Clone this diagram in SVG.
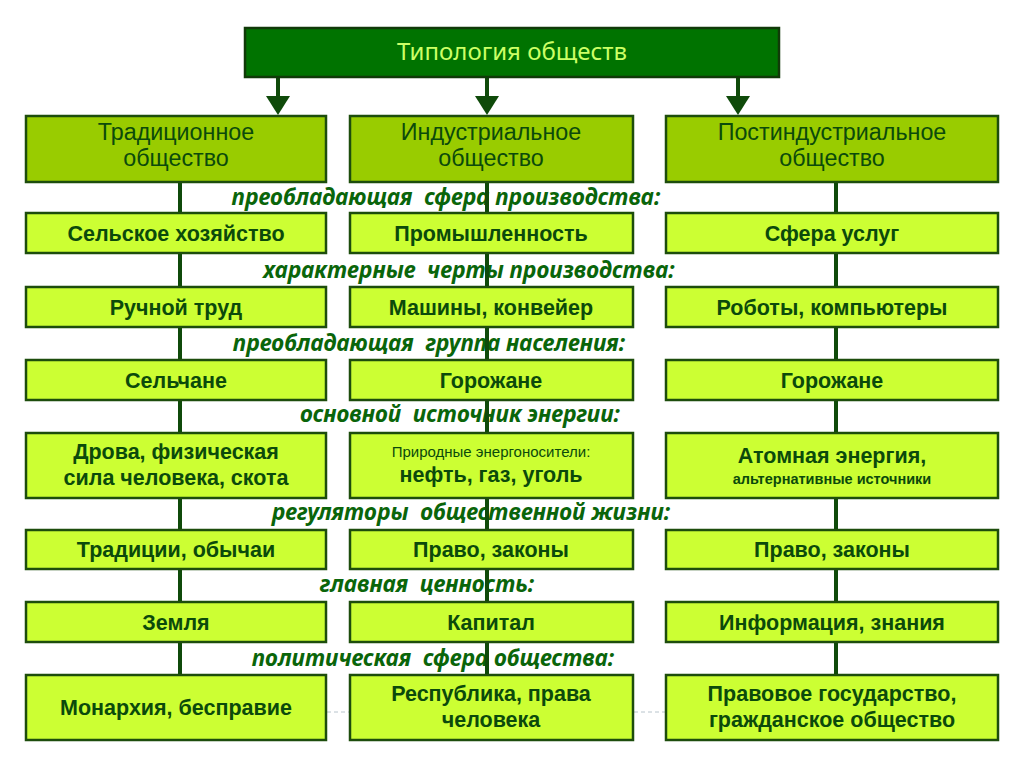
<svg xmlns="http://www.w3.org/2000/svg" width="1024" height="767" viewBox="0 0 1024 767">
<defs>
<style>
.top{fill:#007300;stroke:#103a08;stroke-width:2.5}
.hdr{fill:#99cc00;stroke:#1d4d0c;stroke-width:2.5}
.box{fill:#ccff33;stroke:#1d4d0c;stroke-width:2.5}
.t{font-family:"Liberation Sans",Arial,sans-serif;fill:#0b4a0b;text-anchor:middle}
.b{font-weight:bold;font-size:21.5px}
.h{font-size:23.3px}
.s{font-size:15px}
.lbl{font-family:"Noto Sans","Open Sans",sans-serif;font-style:italic;font-weight:bold;font-size:22.5px;fill:#0a650a;text-anchor:middle;white-space:pre}
.ln{stroke:#0f4a0a;stroke-width:4;fill:none}
.dash{stroke:#b8c4cc;stroke-width:1;stroke-dasharray:4 3;fill:none}
</style>
</defs>
<rect width="1024" height="767" fill="#ffffff"/>

<g id="labels">
<text class="lbl" x="446" y="205" xml:space="preserve">преобладающая  сфера производства:</text>
<text class="lbl" x="469" y="278" xml:space="preserve">характерные  черты производства:</text>
<text class="lbl" x="429" y="351" xml:space="preserve">преобладающая  группа населения:</text>
<text class="lbl" x="460" y="422" xml:space="preserve">основной  источник энергии:</text>
<text class="lbl" x="471" y="520" xml:space="preserve">регуляторы  общественной жизни:</text>
<text class="lbl" x="427" y="592" xml:space="preserve">главная  ценность:</text>
<text class="lbl" x="433" y="666" xml:space="preserve">политическая  сфера общества:</text>
</g>

<g id="connectors">
<line class="ln" x1="278" y1="78" x2="278" y2="98"/>
<polygon points="266,96 290,96 278,115" fill="#0f4a0a"/>
<line class="ln" x1="487" y1="78" x2="487" y2="98"/>
<polygon points="475,96 499,96 487,115" fill="#0f4a0a"/>
<line class="ln" x1="738" y1="78" x2="738" y2="98"/>
<polygon points="726,96 750,96 738,115" fill="#0f4a0a"/>
<line class="ln" x1="180" y1="182" x2="180" y2="675"/>
<line class="ln" x1="487" y1="182" x2="487" y2="675"/>
<line class="ln" x1="836" y1="182" x2="836" y2="675"/>
<line class="dash" x1="327" y1="712" x2="350" y2="712"/>
<line class="dash" x1="634" y1="712" x2="666" y2="712"/>
</g>

<g id="root">
<rect class="top" x="245" y="28" width="534" height="49"/>
<text x="512" y="60" style="font-family:'Noto Sans','Open Sans',sans-serif;text-anchor:middle;fill:#ccff66;font-size:24px">Типология обществ</text>
</g>

<g id="traditional">
<rect class="hdr" x="26" y="116" width="300" height="66"/>
<text class="t h" x="176" y="140">Традиционное</text>
<text class="t h" x="176" y="166">общество</text>
</g>
<g id="industrial">
<rect class="hdr" x="350" y="116" width="283" height="66"/>
<text class="t h" x="491" y="140">Индустриальное</text>
<text class="t h" x="491" y="166">общество</text>
</g>
<g id="postindustrial">
<rect class="hdr" x="666" y="116" width="332" height="66"/>
<text class="t h" x="832" y="140">Постиндустриальное</text>
<text class="t h" x="832" y="166">общество</text>
</g>

<g id="r1c1"><rect class="box" x="26" y="213" width="300" height="40"/><text class="t b" x="176" y="241">Сельское хозяйство</text></g>
<g id="r1c2"><rect class="box" x="350" y="213" width="283" height="40"/><text class="t b" x="491" y="241">Промышленность</text></g>
<g id="r1c3"><rect class="box" x="666" y="213" width="332" height="40"/><text class="t b" x="832" y="241">Сфера услуг</text></g>

<g id="r2c1"><rect class="box" x="26" y="287" width="300" height="40"/><text class="t b" x="176" y="315">Ручной труд</text></g>
<g id="r2c2"><rect class="box" x="350" y="287" width="283" height="40"/><text class="t b" x="491" y="315">Машины, конвейер</text></g>
<g id="r2c3"><rect class="box" x="666" y="287" width="332" height="40"/><text class="t b" x="832" y="315">Роботы, компьютеры</text></g>

<g id="r3c1"><rect class="box" x="26" y="360" width="300" height="40"/><text class="t b" x="176" y="388">Сельчане</text></g>
<g id="r3c2"><rect class="box" x="350" y="360" width="283" height="40"/><text class="t b" x="491" y="388">Горожане</text></g>
<g id="r3c3"><rect class="box" x="666" y="360" width="332" height="40"/><text class="t b" x="832" y="388">Горожане</text></g>

<g id="r4c1"><rect class="box" x="26" y="433" width="300" height="65"/><text class="t b" x="176" y="459">Дрова, физическая</text><text class="t b" x="176" y="485">сила человека, скота</text></g>
<g id="r4c2"><rect class="box" x="350" y="433" width="283" height="65"/><text class="t s" x="491" y="457">Природные энергоносители:</text><text class="t b" x="491" y="482">нефть, газ, уголь</text></g>
<g id="r4c3"><rect class="box" x="666" y="433" width="332" height="65"/><text class="t b" x="832" y="463">Атомная энергия,</text><text class="t s" x="832" y="484" style="font-weight:bold;font-size:14.5px">альтернативные источники</text></g>

<g id="r5c1"><rect class="box" x="26" y="530" width="300" height="39"/><text class="t b" x="176" y="557">Традиции, обычаи</text></g>
<g id="r5c2"><rect class="box" x="350" y="530" width="283" height="39"/><text class="t b" x="491" y="557">Право, законы</text></g>
<g id="r5c3"><rect class="box" x="666" y="530" width="332" height="39"/><text class="t b" x="832" y="557">Право, законы</text></g>

<g id="r6c1"><rect class="box" x="26" y="602" width="300" height="40"/><text class="t b" x="176" y="630">Земля</text></g>
<g id="r6c2"><rect class="box" x="350" y="602" width="283" height="40"/><text class="t b" x="491" y="630">Капитал</text></g>
<g id="r6c3"><rect class="box" x="666" y="602" width="332" height="40"/><text class="t b" x="832" y="630">Информация, знания</text></g>

<g id="r7c1"><rect class="box" x="26" y="675" width="300" height="65"/><text class="t b" x="176" y="715">Монархия, бесправие</text></g>
<g id="r7c2"><rect class="box" x="350" y="675" width="283" height="65"/><text class="t b" x="491" y="701">Республика, права</text><text class="t b" x="491" y="727">человека</text></g>
<g id="r7c3"><rect class="box" x="666" y="675" width="332" height="65"/><text class="t b" x="832" y="701">Правовое государство,</text><text class="t b" x="832" y="727">гражданское общество</text></g>
</svg>
